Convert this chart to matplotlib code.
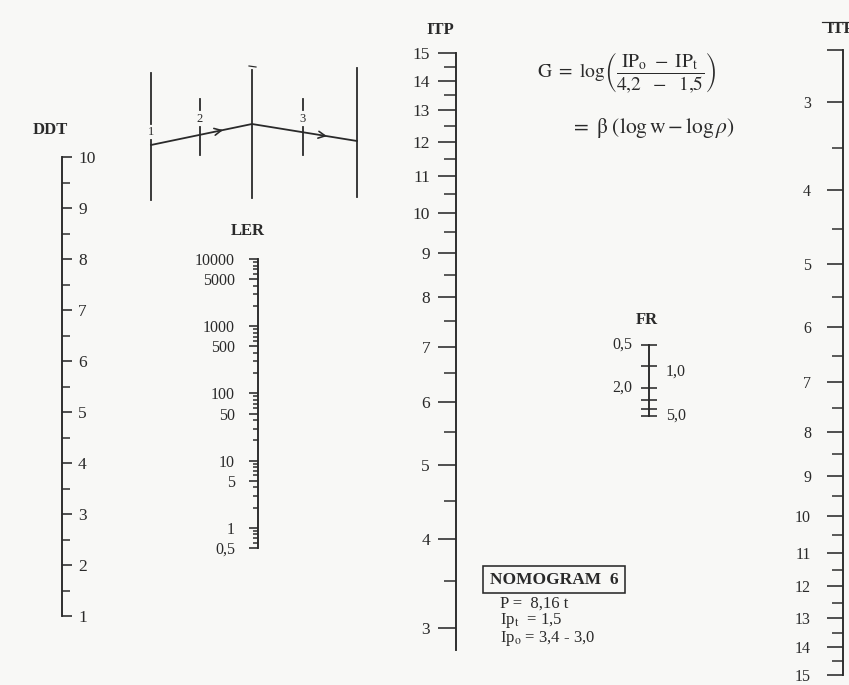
import numpy as np
import matplotlib
matplotlib.use("Agg")
import matplotlib.pyplot as plt
from matplotlib.patches import Rectangle

W, H = 849, 685
plt.rcParams["font.family"] = ["Liberation Serif", "DejaVu Serif"]
plt.rcParams["mathtext.fontset"] = "stix"

INK = "#2a2a2a"
PAPER = "#f8f8f6"
PT = 0.72  # points per pixel at 100 dpi

# ---- scale values -------------------------------------------------------
ddt_major = list(range(1, 11))
ddt_minor = [v + 0.5 for v in range(1, 10)]

ler_major = [0.5, 1, 5, 10, 50, 100, 500, 1000, 5000, 10000]
ler_text = ["0,5", "1", "5", "10", "50", "100", "500", "1000", "5000", "10000"]
ler_minor = [m * 10.0 ** e for e in range(-1, 4) for m in (2, 3, 4, 6, 7, 8, 9)
             if 0.5 < m * 10.0 ** e < 10000]

itp_major = list(range(3, 16))
itp_minor = [v + 0.5 for v in range(3, 15)]
itp_right_extra = [2.5]

fr_ticks = [0.5, 1, 2, 3, 4, 5]
fr_left = {0.5: "0,5", 2: "2,0"}
fr_right = {1: "1,0", 5: "5,0"}


def itp_fwd(v):
    return np.log10(np.asarray(v, dtype=float) + 1.5)


def itp_inv(u):
    return 10.0 ** np.asarray(u, dtype=float) - 1.5


fig = plt.figure(figsize=(W / 100, H / 100), dpi=100)
fig.patch.set_facecolor(PAPER)


def scale_axes(x, y_top, y_bot, side):
    """A zero-width axes whose single visible spine sits at pixel column x."""
    ax = fig.add_axes([x / W, 1 - y_bot / H, 0.0001, (y_bot - y_top) / H])
    ax.patch.set_visible(False)
    for s in ("top", "bottom", "left", "right"):
        ax.spines[s].set_visible(s == side)
    ax.spines[side].set_color(INK)
    ax.spines[side].set_linewidth(1.9 * PT)
    ax.set_xticks([])
    if side == "right":
        ax.yaxis.tick_right()
    else:
        ax.yaxis.tick_left()
    return ax


def style_ticks(ax, major_len, minor_len, pad, fs, direction="out"):
    ax.tick_params(axis="y", which="major", length=major_len * PT, width=1.6 * PT,
                   color=INK, labelcolor=INK, labelsize=fs, pad=pad * PT,
                   direction=direction)
    ax.tick_params(axis="y", which="minor", length=minor_len * PT, width=1.5 * PT,
                   color=INK, direction=direction)


# ---- DDT (linear) -------------------------------------------------------
ax_ddt = scale_axes(62, 157, 616, "right")
ax_ddt.set_ylim(1, 10)
ax_ddt.set_yticks(ddt_major)
ax_ddt.set_yticklabels([str(v) for v in ddt_major])
ax_ddt.set_yticks(ddt_minor, minor=True)
style_ticks(ax_ddt, 10, 8, 6, 12.5)
fig.text(50 / W, 1 - 130 / H, "DDT", ha="center", va="center",
         fontsize=12, fontweight="bold", color=INK)

# ---- LER (logarithmic) --------------------------------------------------
ax_ler = scale_axes(258, 259, 548, "left")
ax_ler.set_yscale("log")
ax_ler.set_ylim(0.5, 10000)
ax_ler.set_yticks(ler_major)
ax_ler.set_yticklabels(ler_text)
ax_ler.set_yticks(ler_minor, minor=True)
ax_ler.set_yticklabels([], minor=True)
style_ticks(ax_ler, 9, 5, 14, 11.5)
fig.text(248 / W, 1 - 231 / H, "LER", ha="center", va="center",
         fontsize=12, fontweight="bold", color=INK)

# ---- ITP (left, 15 at the top) -----------------------------------------
ax_itp = scale_axes(456, 53, 650, "left")
ax_itp.set_yscale("function", functions=(itp_fwd, itp_inv))
ax_itp.set_ylim(itp_inv(itp_fwd(3) - 22 / 1019.0), 15)
ax_itp.set_yticks(itp_major)
ax_itp.set_yticklabels([str(v) for v in itp_major])
ax_itp.set_yticks(itp_minor, minor=True)
ax_itp.set_yticklabels([], minor=True)
style_ticks(ax_itp, 18, 12, 8, 12.5)
fig.text(440 / W, 1 - 30 / H, "ITP", ha="center", va="center",
         fontsize=12, fontweight="bold", color=INK)

# ---- ITP (right, reversed) ---------------------------------------------
ax_itp2 = scale_axes(843, 50, 675, "left")
ax_itp2.set_yscale("function", functions=(itp_fwd, itp_inv))
ax_itp2.set_ylim(15, 2.5)
ax_itp2.set_yticks(itp_right_extra + itp_major)
ax_itp2.set_yticklabels([""] + [str(v) for v in itp_major])
ax_itp2.set_yticks(itp_minor, minor=True)
ax_itp2.set_yticklabels([], minor=True)
style_ticks(ax_itp2, 16, 11, 16, 11.5)
fig.text(840 / W, 1 - 29 / H, "ITP", ha="center", va="center",
         fontsize=12, fontweight="bold", color=INK)

# ---- FR (logarithmic, short, 0,5 on top) -------------------------------
ax_fr = scale_axes(649, 345, 416, "left")
ax_fr.set_yscale("log")
ax_fr.set_ylim(5, 0.5)
ax_fr.set_yticks(fr_ticks)
ax_fr.set_yticklabels([])
ax_fr.set_yticks([], minor=True)
ax_fr.tick_params(axis="y", which="major", length=16 * PT, width=1.6 * PT,
                  color=INK, direction="inout")
for v, t in fr_left.items():
    ax_fr.annotate(t, xy=(0, v), xycoords=ax_fr.get_yaxis_transform(),
                   xytext=(-12, 0), textcoords="offset points",
                   ha="right", va="center", fontsize=11.5, color=INK)
for v, t in fr_right.items():
    ax_fr.annotate(t, xy=(0, v), xycoords=ax_fr.get_yaxis_transform(),
                   xytext=(12, -4 if v == 1 else 0), textcoords="offset points",
                   ha="left", va="center", fontsize=11.5, color=INK)
fig.text(647 / W, 1 - 320 / H, "FR", ha="center", va="center",
         fontsize=12, fontweight="bold", color=INK)

# ---- overlay in pixel units for the sketch and the notes ----------------
ov = fig.add_axes([0, 0, 1, 1])
ov.set_xlim(0, W)
ov.set_ylim(H, 0)
ov.axis("off")
ov.patch.set_visible(False)

lw = 1.8 * PT
# schematic of reading the nomogram: three long rulers, two short ones
long_x = [151, 252, 357]
long_top = [73, 70, 68]
long_bot = [200, 198, 197]
for x, t, b in zip(long_x, long_top, long_bot):
    if x == 151:
        ov.plot([x, x], [t, 124], color=INK, lw=lw)
        ov.plot([x, x], [140, b], color=INK, lw=lw)
        ov.text(x, 132, "1", ha="center", va="center", fontsize=9, color=INK)
    else:
        ov.plot([x, x], [t, b], color=INK, lw=lw)
ov.plot([249, 256], [66, 67], color=INK, lw=1.2 * PT)

for x, lab in ((200, "2"), (303, "3")):
    ov.plot([x, x], [99, 110], color=INK, lw=lw)
    ov.text(x, 119, lab, ha="center", va="center", fontsize=9, color=INK)
    ov.plot([x, x], [127, 155], color=INK, lw=lw)

path_x = [151, 252, 357]
path_y = [145, 124, 141]
ov.plot(path_x, path_y, color=INK, lw=1.8 * PT)
for (x0, y0), (x1, y1), f in (((151, 145), (252, 124), 0.74),
                               ((252, 124), (357, 141), 0.74)):
    xa, ya = x0 + f * (x1 - x0), y0 + f * (y1 - y0)
    xb, yb = x0 + (f - 0.08) * (x1 - x0), y0 + (f - 0.08) * (y1 - y0)
    ov.annotate("", xy=(xa, ya), xytext=(xb, yb),
                arrowprops=dict(arrowstyle="->,head_length=0.5,head_width=0.25",
                                color=INK, lw=1.6 * PT))

# formula
ov.text(537, 73,
        r"$\mathrm{G\ =\ log}\left(\dfrac{\mathrm{IP_o\ -\ IP_t}}{\mathrm{4{,}2\ \ -\ \ 1{,}5}}\right)$",
        ha="left", va="center", fontsize=14, color=INK)
ov.text(570, 128, r"$=\ \mathrm{\beta}\ \left(\mathrm{log\,w} - \mathrm{log}\,\rho\right)$",
        ha="left", va="center", fontsize=15.5, color=INK)

# nomogram caption and parameters
ov.add_patch(Rectangle((483, 566), 142, 27, fill=False, ec=INK, lw=1.6 * PT))
ov.text(554, 580, "NOMOGRAM  6", ha="center", va="center",
        fontsize=12.5, fontweight="bold", color=INK)
ov.text(500, 604, "P =  8,16 t", ha="left", va="center", fontsize=12, color=INK)
ov.text(500, 621, r"Ip$_\mathrm{t}$  = 1,5", ha="left", va="center", fontsize=12, color=INK)
ov.text(500, 639, r"Ip$_\mathrm{o}$ = 3,4 - 3,0", ha="left", va="center", fontsize=12, color=INK)

# rule over the right-hand title
ov.plot([822, 849], [22, 22], color=INK, lw=1.2 * PT)

fig.savefig("out.png", dpi=100, facecolor=PAPER)
